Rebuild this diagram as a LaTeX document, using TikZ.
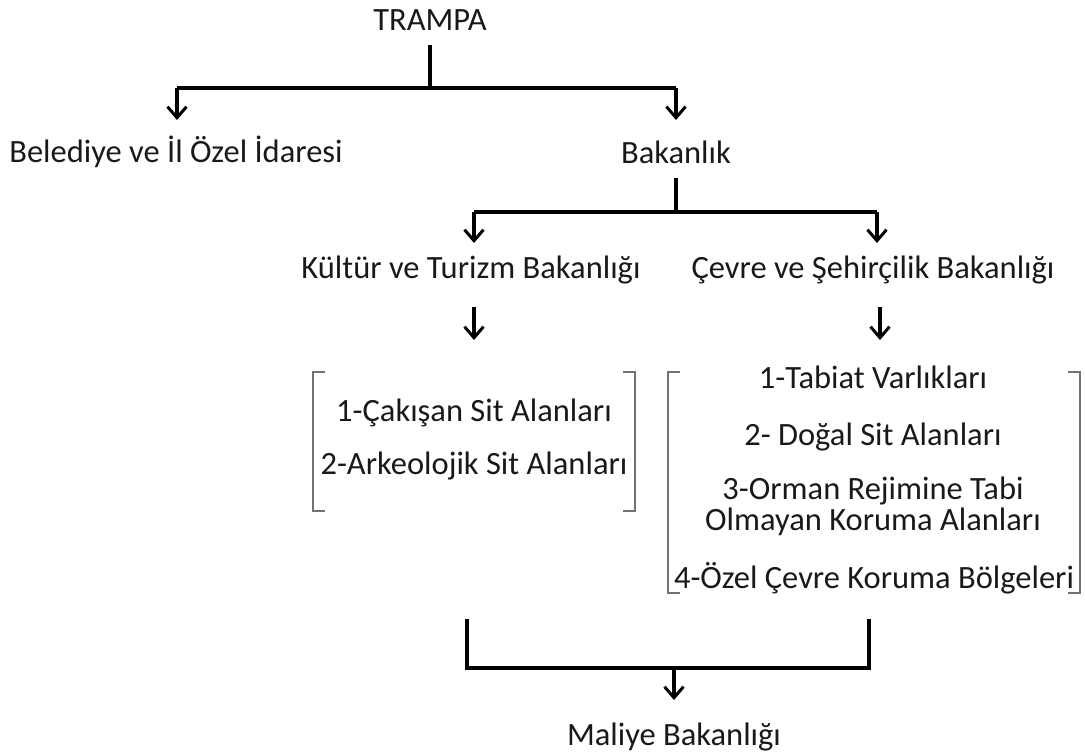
\documentclass[tikz,border=0pt]{standalone}
\usepackage{fontspec}
\setmainfont{Carlito}
\usetikzlibrary{arrows.meta}
\begin{document}
\begin{tikzpicture}[x=1pt,y=-1pt,
  lbl/.style={font=\fontsize{32.5}{31}\selectfont, inner sep=0pt, anchor=center, text=black!90},
  conn/.style={line width=3.4pt, black},
  arr/.style={conn, -{Straight Barb[length=11pt,width=19pt,line width=3pt]}},
  brk/.style={line width=1.1pt, black!55}]
\useasboundingbox (0,0) rectangle (1085,755);
% nodes
\node[lbl] (trampa) at (430,20) {TRAMPA};
\node[lbl] (beled) at (176,152) {Belediye ve İl Özel İdaresi};
\node[lbl] (bak) at (676,152) {Bakanlık};
\node[lbl] (ktb) at (471,270) {Kültür ve Turizm Bakanlığı};
\node[lbl] (csb) at (873,270) {Çevre ve Şehirçilik Bakanlığı};
\node[lbl] (l1) at (474,413) {1-Çakışan Sit Alanları};
\node[lbl] (l2) at (474,466) {2-Arkeolojik Sit Alanları};
\node[lbl] (r1) at (873,377) {1-Tabiat Varlıkları};
\node[lbl] (r2) at (873,437) {2- Doğal Sit Alanları};
\node[lbl, align=center] (r3) at (873,506) {3-Orman Rejimine Tabi\\Olmayan Koruma Alanları};
\node[lbl] (r4) at (874,578) {4-Özel Çevre Koruma Bölgeleri};
\node[lbl] (mal) at (674,737) {Maliye Bakanlığı};
% junction coordinates
\coordinate (t0) at (430,45);
\coordinate (t1) at (430,88);
\coordinate (tl) at (177,88);
\coordinate (tr) at (676,88);
\coordinate (tla) at (177,120);
\coordinate (tra) at (676,120);
\coordinate (b0) at (676,178);
\coordinate (b1) at (676,212);
\coordinate (bl) at (474,212);
\coordinate (br) at (877,212);
\coordinate (bla) at (474,243);
\coordinate (bra) at (877,243);
\coordinate (ka0) at (474,307);
\coordinate (ka1) at (474,340);
\coordinate (ca0) at (880,307);
\coordinate (ca1) at (880,340);
\coordinate (m0) at (467,619);
\coordinate (m1) at (467,668);
\coordinate (m2) at (869,668);
\coordinate (m3) at (869,619);
\coordinate (mm) at (674,668);
\coordinate (mma) at (674,700);
% connectors
\draw[conn] (t0) -- (t1);
\draw[conn] (tl) -- (tr);
\draw[arr] (tl) -- (tla);
\draw[arr] (tr) -- (tra);
\draw[conn] (b0) -- (b1);
\draw[conn] (bl) -- (br);
\draw[arr] (bl) -- (bla);
\draw[arr] (br) -- (bra);
\draw[arr] (ka0) -- (ka1);
\draw[arr] (ca0) -- (ca1);
\draw[conn] (m0) -- (m1) -- (m2) -- (m3);
\draw[arr] (mm) -- (mma);
% brackets
\draw[brk] (325,372) -- (313,372) -- (313,511) -- (325,511);
\draw[brk] (623,372) -- (635,372) -- (635,511) -- (623,511);
\draw[brk] (680,372) -- (668,372) -- (668,593) -- (680,593);
\draw[brk] (1068,372) -- (1080,372) -- (1080,593) -- (1068,593);
\end{tikzpicture}
\end{document}
